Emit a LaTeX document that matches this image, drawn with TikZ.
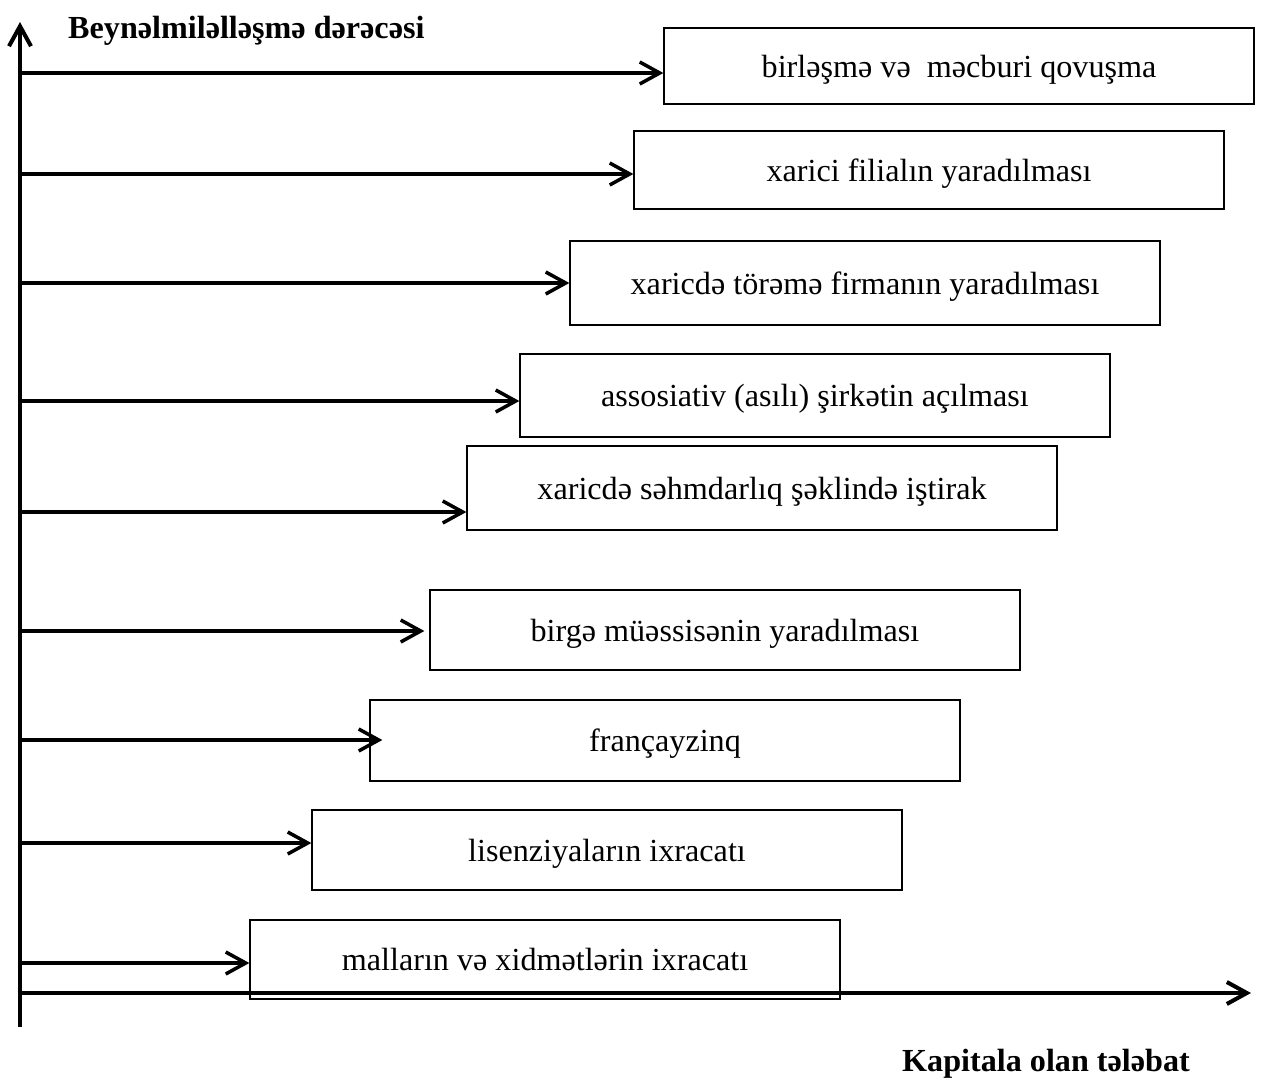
\documentclass[tikz,border=0pt]{standalone}
\usepackage{fontspec}
\setmainfont{Liberation Serif}
\usetikzlibrary{arrows.meta}
\usetikzlibrary{positioning}

\begin{document}
\begin{tikzpicture}[x=0.02cm, y=-0.02cm,
    axis/.style={line width=2.6pt},
    link/.style={line width=2pt, -{Straight Barb[length=4mm, width=4.4mm, line width=2pt]}},
    box/.style={draw=black, line width=0.8pt, minimum width=11.8cm, inner sep=0pt, text height=17.4pt, text depth=4.4pt, font=\fontsize{18.3}{21}\selectfont},
    title/.style={anchor=west, font=\fontsize{18.3}{21}\selectfont\bfseries}]

      % white space round the picture
      \useasboundingbox (0,0) rectangle (1265,1086);

      % axes
      \coordinate (origin) at (20,993);
      \coordinate (ytop) at (20,22);
      \coordinate (ybottom) at (20,1027);
      \coordinate (xend) at (1251,993);
      \draw [axis, -{Straight Barb[length=4mm, width=4.4mm, line width=2.3pt]}] (ybottom) -- (ytop);
      \draw [axis, -{Straight Barb[length=4mm, width=4.4mm, line width=2.3pt]}] ([xshift=-1.3pt]origin) -- (xend);
      \node [title, name=ylabel] at (62,31) {Beynəlmiləlləşmə dərəcəsi};
      \node [title, name=xlabel] at (896,1064) {Kapitala olan tələbat};

      % forms of entry
      \node [box, minimum height=1.52cm, name=b1] at (959,66) {birləşmə və\ \ məcburi qovuşma};
      \node [box, minimum height=1.56cm, name=b2] at (929,170) {xarici filialın yaradılması};
      \node [box, minimum height=1.68cm, name=b3] at (865,283) {xaricdə törəmə firmanın yaradılması};
      \node [box, minimum height=1.66cm, name=b4] at (815,395.5) {assosiativ (asılı) şirkətin açılması};
      \node [box, minimum height=1.68cm, name=b5] at (762,488) {xaricdə səhmdarlıq şəklində iştirak};
      \node [box, minimum height=1.60cm, name=b6] at (725,630) {birgə müəssisənin yaradılması};
      \node [box, minimum height=1.62cm, name=b7] at (665,740.5) {françayzinq};
      \node [box, minimum height=1.60cm, name=b8] at (607,850) {lisenziyaların ixracatı};
      \node [box, minimum height=1.58cm, name=b9] at (545,959.5) {malların və xidmətlərin ixracatı};

      % starting points on the axis
      \coordinate (s1) at (20,73);
      \coordinate (s2) at (20,174);
      \coordinate (s3) at (20,283);
      \coordinate (s4) at (20,401);
      \coordinate (s5) at (20,512);
      \coordinate (s6) at (20,631);
      \coordinate (s7) at (20,740);
      \coordinate (s8) at (20,843);
      \coordinate (s9) at (20,963);

      % connections
      \draw [link] (s1) -- (s1 -| b1.west);
      \draw [link] (s2) -- (s2 -| b2.west);
      \draw [link] (s3) -- (s3 -| b3.west);
      \draw [link] (s4) -- (s4 -| b4.west);
      \draw [link] (s5) -- (s5 -| b5.west);
      \draw [link, shorten >=0.1cm] (s6) -- (s6 -| b6.west);
      \draw [link, shorten >=-0.26cm] (s7) -- (s7 -| b7.west);
      \draw [link] (s8) -- (s8 -| b8.west);
      \draw [link] (s9) -- (s9 -| b9.west);

\end{tikzpicture}
\end{document}
